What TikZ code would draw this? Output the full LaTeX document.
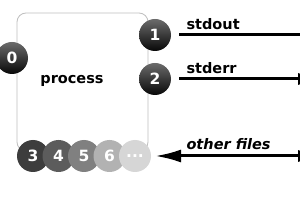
\documentclass[tikz,border=0pt]{standalone}
\usepackage{fontspec}
\setmainfont{DejaVu Sans}
\usetikzlibrary{arrows.meta}
\begin{document}
\begin{tikzpicture}[x=1pt,y=-1pt,
  fd/.style={circle, minimum size=32pt, inner sep=0pt, text=white,
    font=\bfseries\fontsize{15.5}{15.5}\selectfont},
  darkfd/.style={fd, top color=black!58, bottom color=black!97},
  flatfd/.style={fd, fill=#1},
  lbl/.style={anchor=base west, font=\bfseries\fontsize{14.5}{14.5}\selectfont},
  stream/.style={line width=3pt}
]
\fill[white] (0,0) rectangle (300,208);
\useasboundingbox (0,0) rectangle (300,208);

% process box
\node (box) [draw=black!25, line width=0.8pt, rounded corners=9pt,
  minimum width=131pt, minimum height=138pt] at (82.5,82) {};
\node (proc) [anchor=base, font=\bfseries\fontsize{14.5}{14.5}\selectfont] at (72,84) {process};

% standard descriptors
\node (c0) [darkfd] at (12,58) {0};
\node (c1) [darkfd] at (155,35) {1};
\node (c2) [darkfd] at (155,79) {2};

% other descriptors
\node (c3) [flatfd=black!76] at (33,156) {3};
\node (c4) [flatfd=black!64] at (58.5,156) {4};
\node (c5) [flatfd=black!50] at (84,156) {5};
\node (c6) [flatfd=black!30] at (109.5,156) {6};
\node (c7) [flatfd=black!16] at (135,156) {...};

% stream end points
\coordinate (s1) at (179,35);
\coordinate (e1) at (330,35);
\coordinate (s2) at (179,79);
\coordinate (e2) at (323,79);
\coordinate (s3) at (155,156);
\coordinate (e3) at (323,156);

\draw[stream] (s1) -- (e1);
\draw[stream, -{Latex[length=25pt,width=12pt]}] (s2) -- (e2);
\draw[stream, {Latex[length=26pt,width=13pt]}-{Latex[length=25pt,width=12pt]}] (s3) -- (e3);

\node (l1) [lbl] at (183,30) {stdout};
\node (l2) [lbl] at (183,74) {stderr};
\node (l3) [lbl, font=\bfseries\itshape\fontsize{14.5}{14.5}\selectfont] at (183,150) {other files};
\end{tikzpicture}
\end{document}
